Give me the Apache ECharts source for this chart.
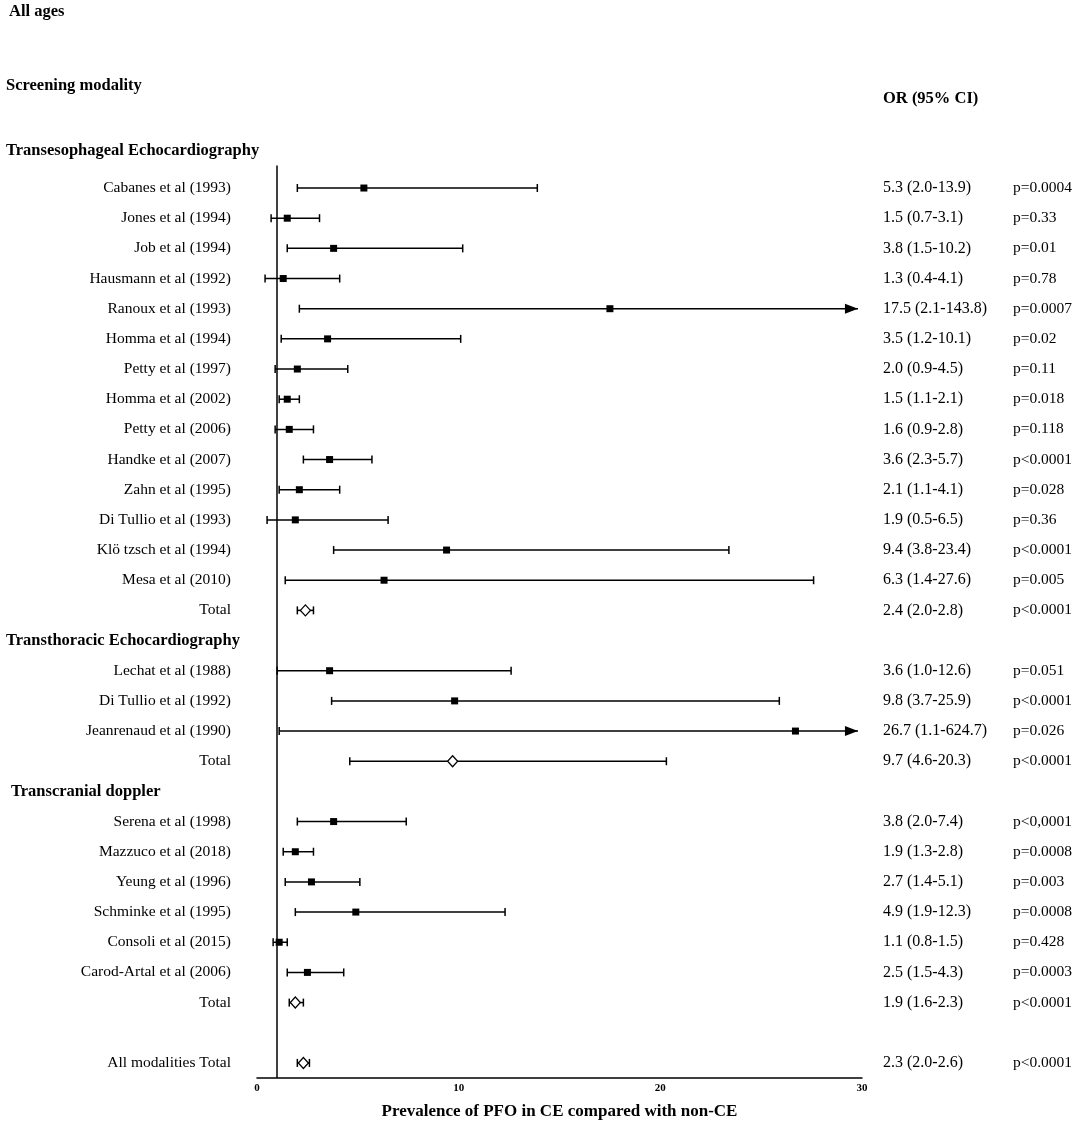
<!DOCTYPE html>
<html>
<head>
<meta charset="utf-8">
<script src="https://cdn.jsdelivr.net/npm/echarts@6/dist/echarts.min.js"></script>
<style>
html, body { margin: 0; padding: 0; background: #fff; }
#main { width: 1084px; height: 1126px; }
</style>
</head>
<body>
<div id="main"></div>
<script>
// study rows (row index = position from top, gaps are section headers)
var studies = [
    'Cabanes et al (1993)', 'Jones et al (1994)', 'Job et al (1994)', 'Hausmann et al (1992)',
    'Ranoux et al (1993)', 'Homma et al (1994)', 'Petty et al (1997)', 'Homma et al (2002)',
    'Petty et al (2006)', 'Handke et al (2007)', 'Zahn et al (1995)', 'Di Tullio et al (1993)',
    'Klö tzsch et al (1994)', 'Mesa et al (2010)', 'Total',
    'Lechat et al (1988)', 'Di Tullio et al (1992)', 'Jeanrenaud et al (1990)', 'Total',
    'Serena et al (1998)', 'Mazzuco et al (2018)', 'Yeung et al (1996)', 'Schminke et al (1995)',
    'Consoli et al (2015)', 'Carod-Artal et al (2006)', 'Total',
    'All modalities Total'
];
var rows = [0, 1, 2, 3, 4, 5, 6, 7, 8, 9, 10, 11, 12, 13, 14,
    16, 17, 18, 19,
    21, 22, 23, 24, 25, 26, 27,
    29];
var orValues = [5.3, 1.5, 3.8, 1.3, 17.5, 3.5, 2.0, 1.5, 1.6, 3.6, 2.1, 1.9, 9.4, 6.3, 2.4,
    3.6, 9.8, 26.7, 9.7,
    3.8, 1.9, 2.7, 4.9, 1.1, 2.5, 1.9,
    2.3];
var ciLow = [2.0, 0.7, 1.5, 0.4, 2.1, 1.2, 0.9, 1.1, 0.9, 2.3, 1.1, 0.5, 3.8, 1.4, 2.0,
    1.0, 3.7, 1.1, 4.6,
    2.0, 1.3, 1.4, 1.9, 0.8, 1.5, 1.6,
    2.0];
var ciHigh = [13.9, 3.1, 10.2, 4.1, 143.8, 10.1, 4.5, 2.1, 2.8, 5.7, 4.1, 6.5, 23.4, 27.6, 2.8,
    12.6, 25.9, 624.7, 20.3,
    7.4, 2.8, 5.1, 12.3, 1.5, 4.3, 2.3,
    2.6];
var pLabels = ['p=0.0004', 'p=0.33', 'p=0.01', 'p=0.78', 'p=0.0007', 'p=0.02', 'p=0.11', 'p=0.018',
    'p=0.118', 'p<0.0001', 'p=0.028', 'p=0.36', 'p<0.0001', 'p=0.005', 'p<0.0001',
    'p=0.051', 'p<0.0001', 'p=0.026', 'p<0.0001',
    'p<0,0001', 'p=0.0008', 'p=0.003', 'p=0.0008', 'p=0.428', 'p=0.0003', 'p<0.0001',
    'p<0.0001'];
var sectionNames = ['Transesophageal Echocardiography', 'Transthoracic Echocardiography', 'Transcranial doppler'];
var sectionRows = [-1.25, 15, 20];
var sectionIndent = [0, 0, 5];

var xMin = 0, xMax = 30, xStep = 10;
var arrowTip = 29.8;
var serif = '"Liberation Serif", "DejaVu Serif", serif';

function orLabel(i) {
    return orValues[i].toFixed(1) + ' (' + ciLow[i].toFixed(1) + '-' + ciHigh[i].toFixed(1) + ')';
}
function isTotal(i) {
    return studies[i].indexOf('Total') >= 0;
}

var squareData = [], diamondData = [], ciData = [], textData = [];
for (var i = 0; i < studies.length; i++) {
    if (isTotal(i)) diamondData.push([orValues[i], rows[i]]);
    else squareData.push([orValues[i], rows[i]]);
    ciData.push([ciLow[i], ciHigh[i], rows[i]]);
    textData.push([0, rows[i], i]);
}
var sectionData = sectionRows.map(function (r, k) { return [0, r, k]; });

var chart = echarts.init(document.getElementById('main'));

var option = {
    animation: false,
    backgroundColor: '#fff',
    grid: { left: 257, right: 222, top: 165.4, bottom: 48 },
    xAxis: {
        type: 'value',
        min: xMin, max: xMax, interval: xStep,
        axisLine: { onZero: false, lineStyle: { color: '#000', width: 1.5 } },
        axisTick: { show: false },
        splitLine: { show: false },
        axisLabel: { color: '#000', fontFamily: serif, fontWeight: 'bold', fontSize: 11, margin: 5 },
        name: 'Prevalence of PFO in CE compared with non-CE',
        nameLocation: 'middle',
        nameGap: 25,
        nameTextStyle: { color: '#000', fontFamily: serif, fontWeight: 'bold', fontSize: 17 }
    },
    yAxis: { type: 'value', inverse: true, min: -0.75, max: 29.5, show: false },
    graphic: [
        { type: 'text', left: 9, top: 3, style: { text: 'All ages', fill: '#000', font: 'bold 16.5px ' + serif } },
        { type: 'text', left: 6, top: 77, style: { text: 'Screening modality', fill: '#000', font: 'bold 16.5px ' + serif } },
        { type: 'text', left: 883, top: 90, style: { text: 'OR (95% CI)', fill: '#000', font: 'bold 16.5px ' + serif } }
    ],
    series: [
        {
            // confidence intervals
            type: 'custom',
            name: 'ci',
            encode: { x: [0, 1], y: 2 },
            data: ciData,
            z: 2,
            renderItem: function (params, api) {
                var lo = api.value(0), hi = api.value(1), r = api.value(2);
                var p0 = api.coord([lo, r]);
                var p1 = api.coord([Math.min(hi, arrowTip), r]);
                var st = { stroke: '#000', lineWidth: 1.5 };
                var kids = [
                    { type: 'line', shape: { x1: p0[0], y1: p0[1], x2: p1[0], y2: p1[1] }, style: st },
                    { type: 'line', shape: { x1: p0[0], y1: p0[1] - 4, x2: p0[0], y2: p0[1] + 4 }, style: st }
                ];
                if (hi > xMax) {
                    kids.push({
                        type: 'polygon',
                        shape: { points: [[p1[0], p1[1]], [p1[0] - 13, p1[1] - 5], [p1[0] - 13, p1[1] + 5]] },
                        style: { fill: '#000' }
                    });
                } else {
                    kids.push({ type: 'line', shape: { x1: p1[0], y1: p1[1] - 4, x2: p1[0], y2: p1[1] + 4 }, style: st });
                }
                return { type: 'group', children: kids };
            }
        },
        {
            type: 'scatter',
            name: 'study',
            data: squareData,
            symbol: 'rect',
            symbolSize: 7,
            itemStyle: { color: '#000', opacity: 1 },
            z: 3,
            markLine: {
                silent: true,
                symbol: 'none',
                label: { show: false },
                lineStyle: { color: '#000', width: 1.5, type: 'solid' },
                data: [{ xAxis: 1 }]
            }
        },
        {
            type: 'scatter',
            name: 'total',
            data: diamondData,
            symbol: 'diamond',
            symbolSize: [10, 11],
            itemStyle: { color: '#fff', borderColor: '#000', borderWidth: 1.3, opacity: 1 },
            z: 4
        },
        {
            // study names, OR text and p values
            type: 'custom',
            name: 'text',
            encode: { x: 0, y: 1 },
            data: textData,
            renderItem: function (params, api) {
                var r = api.value(1), i = api.value(2);
                var left = api.coord([xMin, r]);
                var right = api.coord([xMax, r]);
                var font = '15.5px ' + serif;
                return {
                    type: 'group',
                    children: [
                        { type: 'text', x: left[0] - 26, y: left[1], style: { text: studies[i], font: font, fill: '#000', align: 'right', verticalAlign: 'middle' } },
                        { type: 'text', x: right[0] + 21, y: right[1], style: { text: orLabel(i), font: '16px ' + serif, fill: '#000', align: 'left', verticalAlign: 'middle' } },
                        { type: 'text', x: right[0] + 151, y: right[1], style: { text: pLabels[i], font: font, fill: '#000', align: 'left', verticalAlign: 'middle' } }
                    ]
                };
            }
        },
        {
            // section headers
            type: 'custom',
            name: 'sections',
            encode: { x: 0, y: 1 },
            data: sectionData,
            renderItem: function (params, api) {
                var r = api.value(1), k = api.value(2);
                var pt = api.coord([xMin, r]);
                return {
                    type: 'text', x: 6 + sectionIndent[k], y: pt[1],
                    style: { text: sectionNames[k], font: 'bold 16.5px ' + serif, fill: '#000', align: 'left', verticalAlign: 'middle' }
                };
            }
        }
    ]
};
chart.setOption(option);
</script>
</body>
</html>
